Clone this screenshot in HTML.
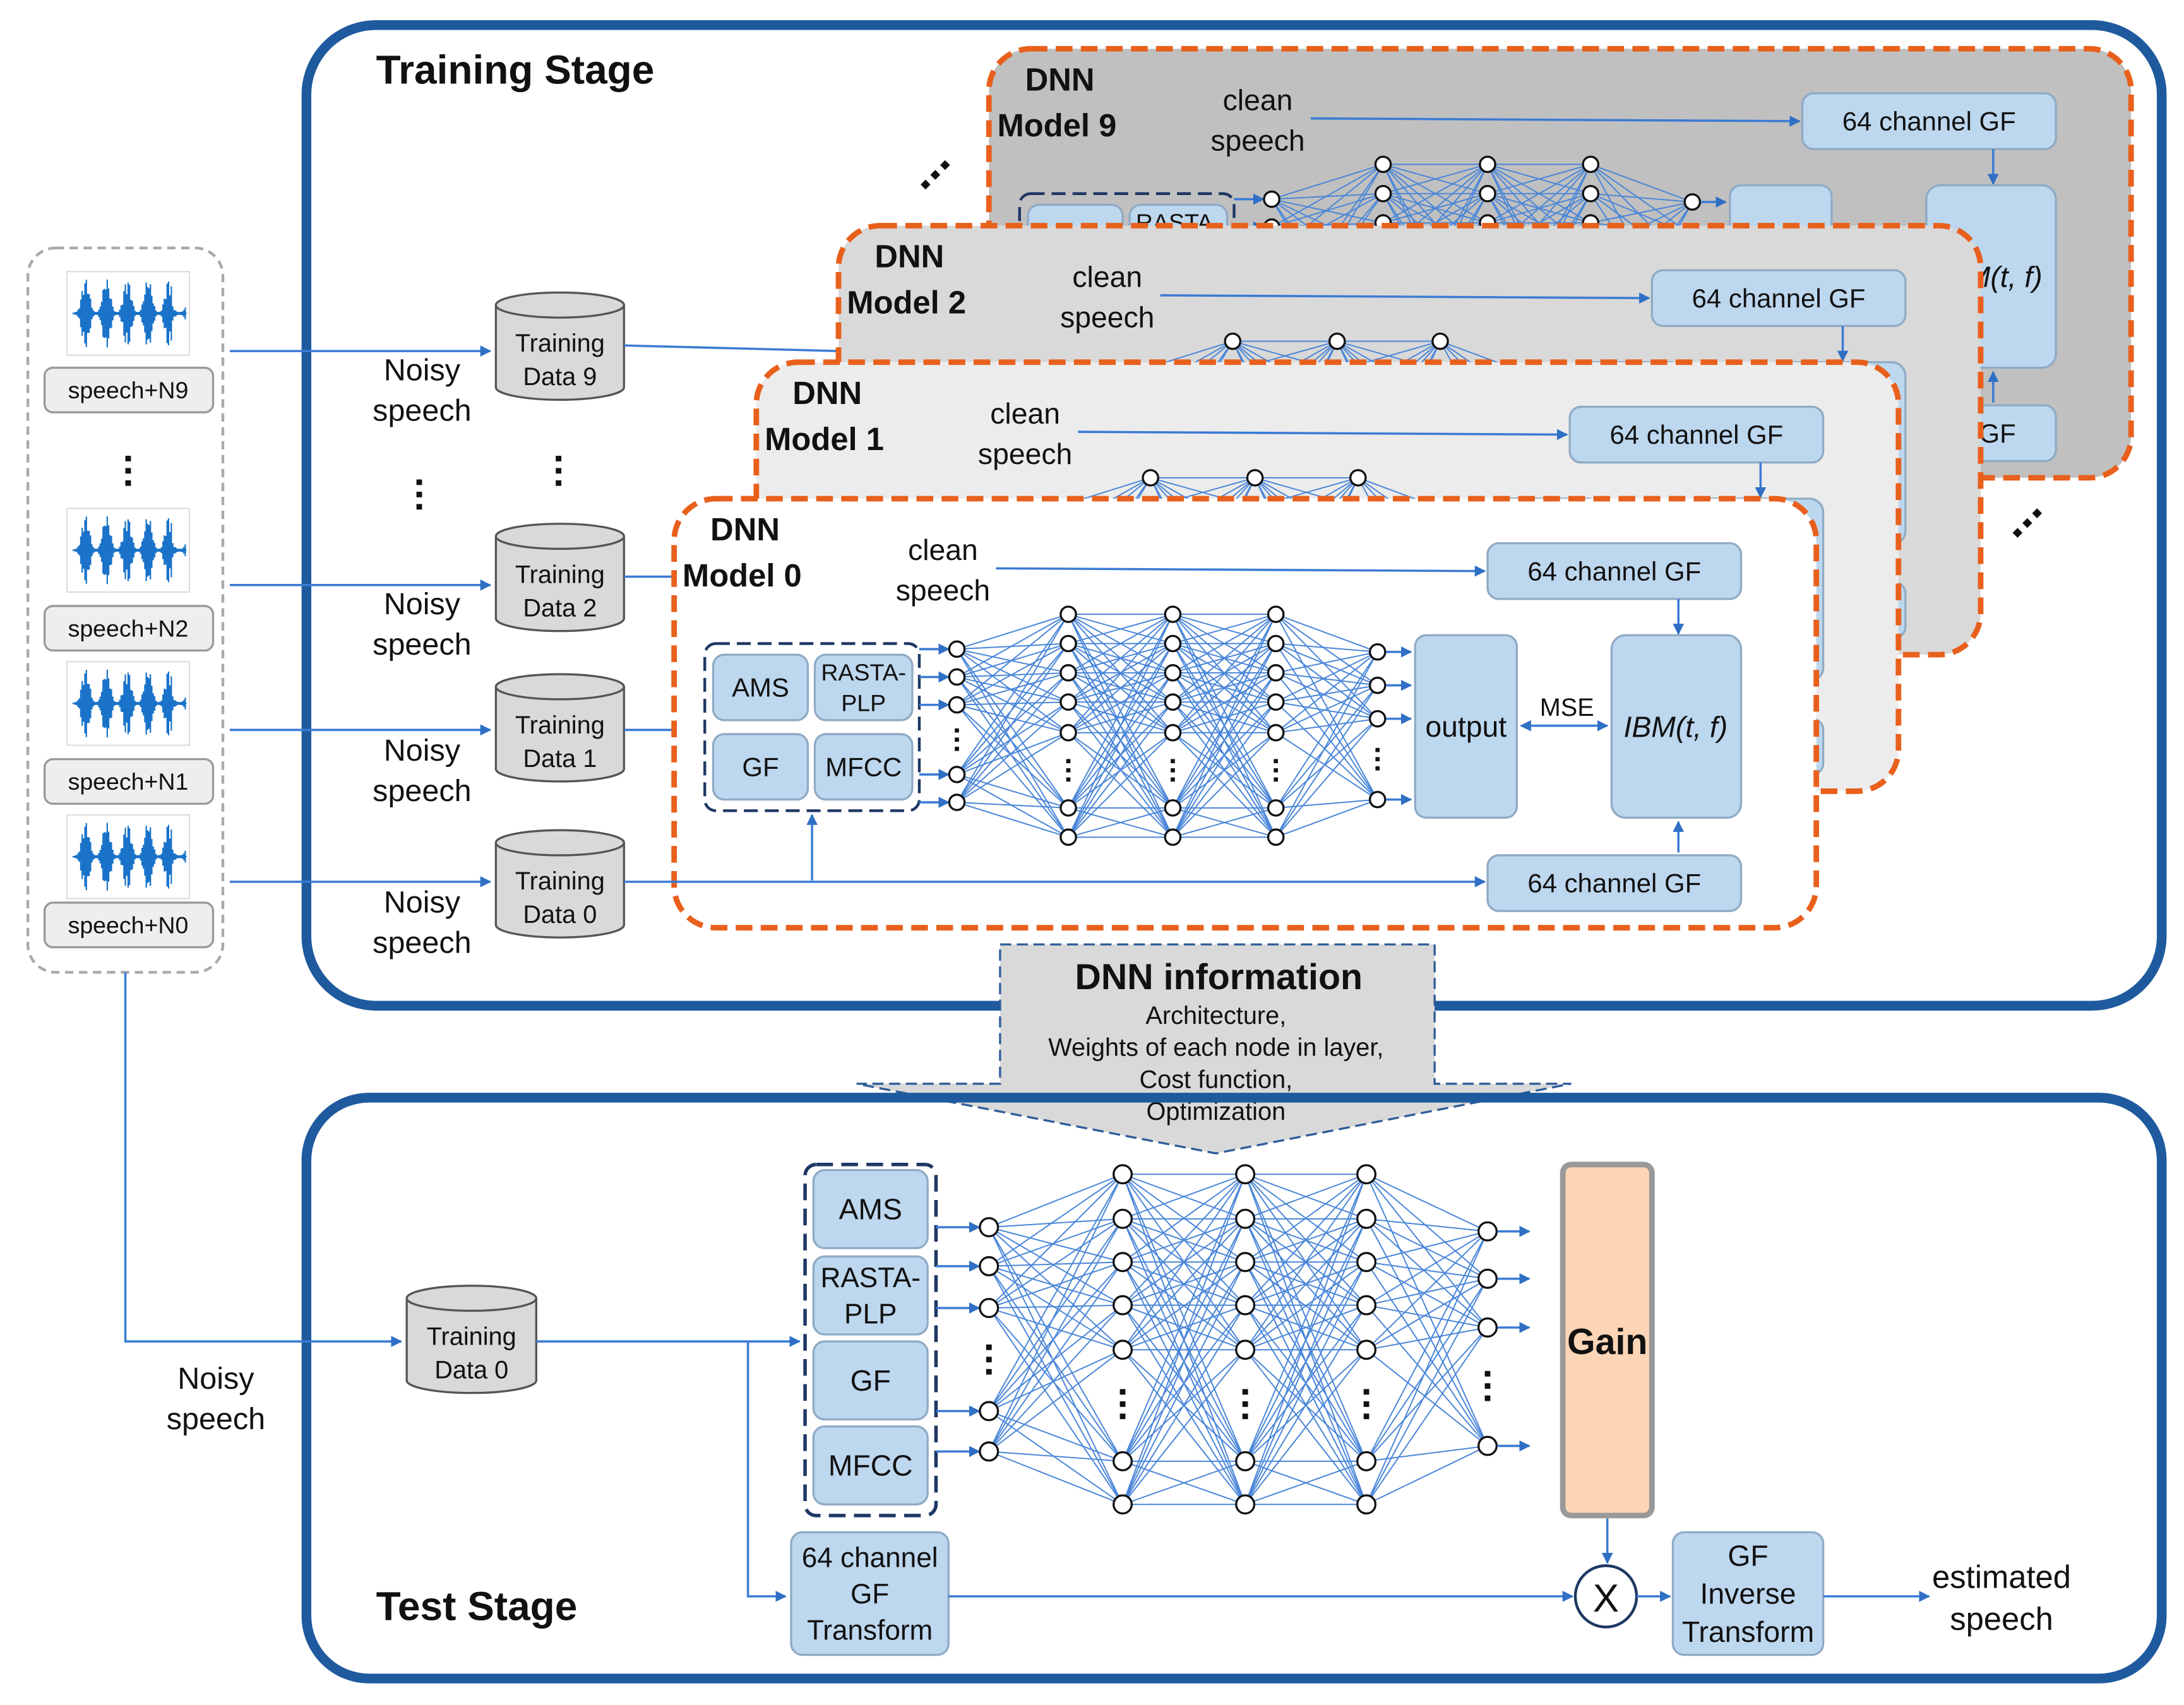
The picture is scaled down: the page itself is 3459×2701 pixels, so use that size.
<!DOCTYPE html>
<html><head><meta charset="utf-8">
<style>
html,body{margin:0;padding:0;background:#fff}
svg{display:block}
text{font-family:"Liberation Sans",sans-serif;fill:#111}
</style></head>
<body>
<svg id="s" width="3459" height="2701" viewBox="0 0 1568 1224" preserveAspectRatio="none" xmlns="http://www.w3.org/2000/svg">
<defs>
<marker id="a" viewBox="0 0 10 10" refX="9" refY="5" markerWidth="5" markerHeight="5" orient="auto-start-reverse"><path d="M0,0L10,5L0,10z" fill="#2f6fc4"/></marker>
</defs>
<g id="root"></g>
</svg>
<script>
const R=document.getElementById('root');let h='';
const BL='#3b7bd4';
function line(x1,y1,x2,y2,arr,c,w){h+=`<line x1="${x1}" y1="${y1}" x2="${x2}" y2="${y2}" stroke="${c||BL}" stroke-width="${w||1.6}" ${arr?'marker-end="url(#a)"':''}/>`;}
function pl(p,arr){h+=`<polyline points="${p}" fill="none" stroke="${BL}" stroke-width="1.6" ${arr?'marker-end="url(#a)"':''}/>`;}
function rect(x,y,w,hh,rx,f,s,sw,da){h+=`<rect x="${x}" y="${y}" width="${w}" height="${hh}" rx="${rx}" fill="${f}" stroke="${s}" stroke-width="${sw||1.5}" ${da?`stroke-dasharray="${da}"`:''}/>`;}
function t(x,y,s,sz,o){o=o||'';h+=`<text x="${x}" y="${y}" font-size="${sz}" ${o.includes('b')?'font-weight="bold"':''} ${o.includes('c')?'text-anchor="middle"':''} ${o.includes('i')?'font-style="italic" font-family="Liberation Serif"':''}>${s}</text>`;}
function node(x,y,r){h+=`<circle cx="${x}" cy="${y}" r="${r||5.5}" fill="#fff" stroke="#111" stroke-width="1.5"/>`;}
function vdots(x,y,d){const sp=d*2.2;for(let i=-1;i<=1;i++)h+=`<rect x="${x-d/2}" y="${y-d/2+i*sp}" width="${d}" height="${d}" fill="#111"/>`;}
function cyl(x,y,w,hh,l1,l2){const ry=9;h+=`<path d="M${x},${y+ry}L${x},${y+hh-ry}A${w/2},${ry} 0 0 0 ${x+w},${y+hh-ry}L${x+w},${y+ry}" fill="#d9d9d9" stroke="#555" stroke-width="1.5"/><ellipse cx="${x+w/2}" cy="${y+ry}" rx="${w/2}" ry="${ry}" fill="#d9d9d9" stroke="#555" stroke-width="1.5"/>`;t(x+w/2,y+hh/2+4,l1,18,'c');t(x+w/2,y+hh/2+28,l2,18,'c');}
function bbox(x,y,w,hh,lines,sz){rect(x,y,w,hh,8,'#bdd7ee','#8faac4',1.5);const n=lines.length;lines.forEach((l,i)=>t(x+w/2,y+hh/2+sz*0.35+(i-(n-1)/2)*sz*1.3,l,sz,'c'));}
function net(L){for(let i=0;i<L.length-1;i++)for(const a of L[i].y)for(const b of L[i+1].y)line(L[i].x,a,L[i+1].x,b,0,'#4a86d8',0.9);}

// left box
rect(20,178,140,520,20,'#fff','#aaa',2,'6,4');
function wave(x,y,lab,ly){rect(x,y,88,60,0,'#fff','#ddd',1);let p='';for(let i=0;i<80;i++){const xx=x+6+i;const env=Math.pow(Math.abs(Math.sin(i*0.21)),3)*(i<70?1:0.3);const a=1+env*24*(0.5+0.5*Math.abs(Math.sin(i*7.3)));p+=`M${xx},${y+30-a}L${xx},${y+30+a}`;}h+=`<path d="${p}" stroke="#1a73c9" stroke-width="1"/><line x1="${x+4}" y1="${y+30}" x2="${x+86}" y2="${y+30}" stroke="#1a73c9" stroke-width="1"/>`;rect(32,ly,121,32,6,'#eee','#999',1.5);t(92,ly+22,lab,17,'c');}
wave(48,195,'speech+N9',264);wave(48,365,'speech+N2',435);wave(48,475,'speech+N1',545);wave(48,585,'speech+N0',648);
vdots(92,338,4);

// training stage
rect(220,18,1332,704,50,'#fff','#1f5a9e',7);
t(270,60,'Training Stage',29,'b');
[[252,210,'9'],[420,376,'2'],[524,484,'1'],[633,596,'0']].forEach(([ly,cy,n])=>{line(165,ly,352,ly,1);cyl(356,cy,92,77,'Training','Data '+n);});
[[273,302],[441,470],[546,575],[655,684]].forEach(([a,b])=>{t(303,a,'Noisy',22,'c');t(303,b,'speech',22,'c');});
vdots(301,355,4);vdots(401,338,4);
line(448,248,602,252);line(448,414,484,414);line(448,524,484,524);

function diag(x,y){for(let i=0;i<3;i++)h+=`<rect x="${x+i*7}" y="${y-i*7}" width="5" height="5" fill="#111" transform="rotate(45 ${x+i*7+2.5} ${y-i*7+2.5})"/>`;}
diag(662,130);diag(1446,380);

function model(dx,dy,fill,num){
 h+=`<g transform="translate(${dx},${dy})">`;
 rect(484,358,820,308,30,fill,'#e8601c',4,'12,6');
 t(510,388,'DNN',23,'b');t(490,421,'Model '+num,23,'b');
 t(677,402,'clean',21,'c');t(677,431,'speech',21,'c');
 line(715,408,1066,410,1);
 bbox(1068,390,182,40,['64 channel GF'],19);
 line(1205,430,1205,455,1);
 rect(506,462,154,120,8,'none','#1f3864',2,'10,5');
 bbox(512,470,68,47,['AMS'],19);bbox(585,470,70,47,['RASTA-','PLP'],17);
 bbox(512,527,68,47,['GF'],19);bbox(585,527,70,47,['MFCC'],19);
 line(583,632,583,585,1);
 const inY=[466,486,506,556,576],hy=[441,462,483,504,526,580,601],oy=[468,492,516,574];
 net([{x:687,y:inY},{x:767,y:hy},{x:842,y:hy},{x:916,y:hy},{x:989,y:oy}]);
 inY.forEach(y=>{line(660,y,681,y,1);node(687,y);});
 [767,842,916].forEach(x=>{hy.forEach(y=>node(x,y));vdots(x,553,3);});
 vdots(687,531,3);vdots(989,545,3);
 oy.forEach(y=>{node(989,y);line(995,y,1013,y,1);});
 bbox(1016,456,73,131,['output'],21);
 h+=`<line x1="1092" y1="521" x2="1154" y2="521" stroke="${BL}" stroke-width="1.6" marker-start="url(#a)" marker-end="url(#a)"/>`;
 t(1125,514,'MSE',18,'c');
 rect(1157,456,93,131,10,'#bdd7ee','#8faac4',1.5);t(1203,529,'IBM(t, f)',21,'ci');
 line(1205,612,1205,590,1);
 bbox(1068,614,182,40,['64 channel GF'],19);
 h+='</g>';
}
model(226,-323,'#c0c0c0','9');
model(118,-196,'#d9d9d9','2');
model(59,-98,'#ececec','1');
model(0,0,'#fff','0');
line(448,633,1066,633,1);

// DNN information
h+=`<polygon points="718,678 1030,678 1030,778 1128,778 873,828 615,778 718,778" fill="#d9d9d9" stroke="#2e5c99" stroke-width="1.5" stroke-dasharray="8,4"/>`;
t(875,710,'DNN information',26,'cb');
['Architecture,','Weights of each node in layer,','Cost function,','Optimization'].forEach((s,i)=>t(873,735+i*23,s,18,'c'));

// test stage
rect(220,788,1332,417,45,'none','#1f5a9e',7);
t(270,1163,'Test Stage',29,'b');
pl('90,698 90,963 288,963',1);
t(155,997,'Noisy',22,'c');t(155,1026,'speech',22,'c');
cyl(292,923,93,77,'Training','Data 0');
line(385,963,574,963,1);pl('537,963 537,1146 564,1146',1);
rect(578,836,94,252,8,'none','#1f3864',2.5,'12,6');
bbox(584,840,82,56,['AMS'],21);bbox(584,902,82,56,['RASTA-','PLP'],20);bbox(584,963,82,56,['GF'],21);bbox(584,1024,82,56,['MFCC'],21);
const iY=[881,909,939,1013,1042],hY=[843,875,906,937,969,1049,1080],oY=[884,918,953,1038];
net([{x:710,y:iY},{x:806,y:hY},{x:894,y:hY},{x:981,y:hY},{x:1068,y:oY}]);
iY.forEach(y=>{line(672,y,703,y,1);node(710,y,6.5);});
[806,894,981].forEach(x=>{hY.forEach(y=>node(x,y,6.5));vdots(x,1008,4);});
vdots(710,976,4);vdots(1068,995,4);
oY.forEach(y=>{node(1068,y,6.5);line(1075,y,1098,y,1);});
rect(1122,836,64,252,6,'#fbd5b5','#999',4);t(1154,972,'Gain',26,'cb');
line(1154,1090,1154,1122,1);
h+=`<circle cx="1153" cy="1146" r="22" fill="#fff" stroke="#1f3864" stroke-width="2"/>`;t(1153,1157,'X',28,'c');
bbox(568,1100,113,88,['64 channel','GF','Transform'],20);
line(681,1146,1129,1146,1);line(1175,1146,1199,1146,1);
bbox(1201,1100,108,88,['GF','Inverse','Transform'],21);
line(1309,1146,1385,1146,1);
t(1437,1140,'estimated',23,'c');t(1437,1170,'speech',23,'c');
R.innerHTML=h;
</script>
</body></html>
